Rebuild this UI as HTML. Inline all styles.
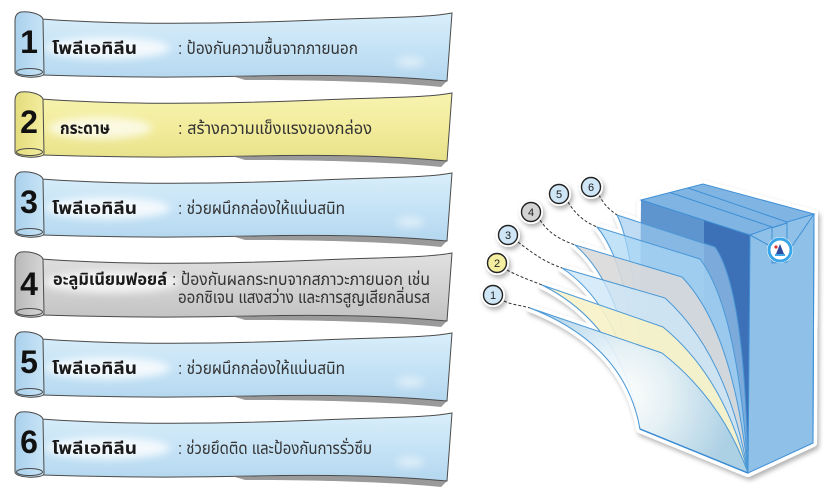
<!DOCTYPE html>
<html><head><meta charset="utf-8">
<style>
html,body{margin:0;padding:0;background:#fff;}
svg{display:block;}
.th{font-family:"Liberation Sans","Noto Sans Thai","Noto Sans Thai UI","Loma","Garuda","Waree","Tlwg Typo","Norasi",sans-serif;}
.num{font-family:"Liberation Sans",sans-serif;font-weight:bold;fill:#111;}
.lab{font-weight:bold;fill:#1a1a1a;font-size:17px;}
.dsc{fill:#333;font-size:17px;}
</style></head><body>
<svg width="836" height="493" viewBox="0 0 836 493" xmlns="http://www.w3.org/2000/svg">
<defs>
  <linearGradient id="gBlue" x1="0" y1="0" x2="0" y2="1">
    <stop offset="0" stop-color="#d9eefa"/><stop offset="0.5" stop-color="#c6e3f6"/><stop offset="1" stop-color="#b4d7ef"/>
  </linearGradient>
  <linearGradient id="gYel" x1="0" y1="0" x2="0" y2="1">
    <stop offset="0" stop-color="#f7f3b0"/><stop offset="0.5" stop-color="#f2ec9c"/><stop offset="1" stop-color="#e8e18a"/>
  </linearGradient>
  <linearGradient id="gGry" x1="0" y1="0" x2="0" y2="1">
    <stop offset="0" stop-color="#e0e0e0"/><stop offset="0.5" stop-color="#d2d2d2"/><stop offset="1" stop-color="#c2c2c2"/>
  </linearGradient>
  <linearGradient id="cBlue" x1="0" y1="0" x2="1" y2="0">
    <stop offset="0" stop-color="#a9d0ec"/><stop offset="1" stop-color="#c8e4f6"/>
  </linearGradient>
  <linearGradient id="cYel" x1="0" y1="0" x2="1" y2="0">
    <stop offset="0" stop-color="#e4dc7c"/><stop offset="1" stop-color="#f3ee a0"/>
  </linearGradient>
  <linearGradient id="cYel2" x1="0" y1="0" x2="1" y2="0">
    <stop offset="0" stop-color="#e4dc7c"/><stop offset="1" stop-color="#f3eea0"/>
  </linearGradient>
  <linearGradient id="cGry" x1="0" y1="0" x2="1" y2="0">
    <stop offset="0" stop-color="#b8b8b8"/><stop offset="1" stop-color="#d6d6d6"/>
  </linearGradient>
  <filter id="glow" x="-30%" y="-100%" width="160%" height="300%">
    <feGaussianBlur stdDeviation="4"/>
  </filter>
  <filter id="sh" x="-10%" y="-10%" width="130%" height="130%">
    <feGaussianBlur in="SourceAlpha" stdDeviation="2.5"/>
    <feOffset dx="2" dy="3" result="b"/>
    <feFlood flood-color="#000" flood-opacity="0.3"/>
    <feComposite in2="b" operator="in"/>
    <feMerge><feMergeNode/><feMergeNode in="SourceGraphic"/></feMerge>
  </filter>
  <radialGradient id="l1g" gradientUnits="userSpaceOnUse" cx="622" cy="395" r="115">
    <stop offset="0" stop-color="#ffffff"/><stop offset="0.4" stop-color="#e4f1f8"/><stop offset="1" stop-color="#a6cde6"/>
  </radialGradient>

  <path id="bBody" d="M42,19 C120,25 220,24 320,20 C385,17 425,18 452,13 L447,81 C405,77 345,74 255,76 C170,78 100,77 42,75 Z"/>
  <path id="bCurl" d="M43,19 C41,14 30,11 21,12 C16,13 15,17 15,21 L15,72 C15,78 42,79 44,74 Z"/>
  <path id="bShad" d="M235,77 C330,74 400,77 447,81 L441,87 C400,83 340,80 245,80 Z"/>
</defs>

<!-- ============ BANNERS ============ -->
<!-- 1 -->
<g transform="translate(0,0)">
  <use href="#bShad" fill="#9a9a9a"/>
  <use href="#bBody" fill="url(#gBlue)" stroke="#4a4a4a" stroke-width="1"/>
  <ellipse cx="108" cy="48" rx="62" ry="11" fill="#fff" opacity="0.8" filter="url(#glow)"/>
  <ellipse cx="410" cy="62" rx="14" ry="5" fill="#fff" opacity="0.5" filter="url(#glow)"/>
  <use href="#bCurl" fill="url(#cBlue)" stroke="#4a4a4a" stroke-width="1"/>
  <ellipse cx="29.5" cy="72" rx="13" ry="3.5" fill="none" stroke="#4a4a4a" stroke-width="1"/>
  <text class="num" x="29" y="53" font-size="32" text-anchor="middle">1</text>
  <text class="th lab" x="52" y="54" textLength="85" lengthAdjust="spacingAndGlyphs">โพลีเอทิลีน</text>
  <text class="th dsc" x="178" y="54" textLength="180" lengthAdjust="spacingAndGlyphs">: ป้องกันความชื้นจากภายนอก</text>
</g>
<!-- 2 -->
<g transform="translate(0,80)">
  <use href="#bShad" fill="#9a9a9a"/>
  <use href="#bBody" fill="url(#gYel)" stroke="#4a4a4a" stroke-width="1"/>
  <ellipse cx="100" cy="48" rx="52" ry="11" fill="#fff" opacity="0.7" filter="url(#glow)"/>
  <use href="#bCurl" fill="url(#cYel2)" stroke="#4a4a4a" stroke-width="1"/>
  <ellipse cx="29.5" cy="72" rx="13" ry="3.5" fill="none" stroke="#4a4a4a" stroke-width="1"/>
  <text class="num" x="29" y="53" font-size="32" text-anchor="middle">2</text>
  <text class="th lab" x="60" y="54" textLength="50" lengthAdjust="spacingAndGlyphs">กระดาษ</text>
  <text class="th dsc" x="178" y="54" textLength="194" lengthAdjust="spacingAndGlyphs">: สร้างความแข็งแรงของกล่อง</text>
</g>
<!-- 3 -->
<g transform="translate(0,160)">
  <use href="#bShad" fill="#9a9a9a"/>
  <use href="#bBody" fill="url(#gBlue)" stroke="#4a4a4a" stroke-width="1"/>
  <ellipse cx="108" cy="48" rx="62" ry="11" fill="#fff" opacity="0.8" filter="url(#glow)"/>
  <ellipse cx="410" cy="62" rx="14" ry="5" fill="#fff" opacity="0.5" filter="url(#glow)"/>
  <use href="#bCurl" fill="url(#cBlue)" stroke="#4a4a4a" stroke-width="1"/>
  <ellipse cx="29.5" cy="72" rx="13" ry="3.5" fill="none" stroke="#4a4a4a" stroke-width="1"/>
  <text class="num" x="29" y="53" font-size="32" text-anchor="middle">3</text>
  <text class="th lab" x="52" y="54" textLength="85" lengthAdjust="spacingAndGlyphs">โพลีเอทิลีน</text>
  <text class="th dsc" x="178" y="54" textLength="167" lengthAdjust="spacingAndGlyphs">: ช่วยผนึกกล่องให้แน่นสนิท</text>
</g>
<!-- 4 -->
<g transform="translate(0,240)">
  <use href="#bShad" fill="#9a9a9a"/>
  <use href="#bBody" fill="url(#gGry)" stroke="#4a4a4a" stroke-width="1"/>
  <ellipse cx="112" cy="42" rx="68" ry="11" fill="#fff" opacity="0.75" filter="url(#glow)"/>
  <use href="#bCurl" fill="url(#cGry)" stroke="#4a4a4a" stroke-width="1"/>
  <ellipse cx="29.5" cy="72" rx="13" ry="3.5" fill="none" stroke="#4a4a4a" stroke-width="1"/>
  <text class="num" x="29" y="55" font-size="32" text-anchor="middle">4</text>
  <text class="th lab" x="53" y="45" textLength="114" lengthAdjust="spacingAndGlyphs">อะลูมิเนียมฟอยล์</text>
  <text class="th dsc" x="172" y="45" textLength="258" lengthAdjust="spacingAndGlyphs">: ป้องกันผลกระทบจากสภาวะภายนอก เช่น</text>
  <text class="th dsc" x="178" y="63" textLength="252" lengthAdjust="spacingAndGlyphs">ออกซิเจน แสงสว่าง และการสูญเสียกลิ่นรส</text>
</g>
<!-- 5 -->
<g transform="translate(0,320)">
  <use href="#bShad" fill="#9a9a9a"/>
  <use href="#bBody" fill="url(#gBlue)" stroke="#4a4a4a" stroke-width="1"/>
  <ellipse cx="108" cy="48" rx="62" ry="11" fill="#fff" opacity="0.8" filter="url(#glow)"/>
  <ellipse cx="410" cy="62" rx="14" ry="5" fill="#fff" opacity="0.5" filter="url(#glow)"/>
  <use href="#bCurl" fill="url(#cBlue)" stroke="#4a4a4a" stroke-width="1"/>
  <ellipse cx="29.5" cy="72" rx="13" ry="3.5" fill="none" stroke="#4a4a4a" stroke-width="1"/>
  <text class="num" x="29" y="53" font-size="32" text-anchor="middle">5</text>
  <text class="th lab" x="52" y="54" textLength="85" lengthAdjust="spacingAndGlyphs">โพลีเอทิลีน</text>
  <text class="th dsc" x="178" y="54" textLength="167" lengthAdjust="spacingAndGlyphs">: ช่วยผนึกกล่องให้แน่นสนิท</text>
</g>
<!-- 6 -->
<g transform="translate(0,400)">
  <use href="#bShad" fill="#9a9a9a"/>
  <use href="#bBody" fill="url(#gBlue)" stroke="#4a4a4a" stroke-width="1"/>
  <ellipse cx="108" cy="48" rx="62" ry="11" fill="#fff" opacity="0.8" filter="url(#glow)"/>
  <ellipse cx="410" cy="62" rx="14" ry="5" fill="#fff" opacity="0.5" filter="url(#glow)"/>
  <use href="#bCurl" fill="url(#cBlue)" stroke="#4a4a4a" stroke-width="1"/>
  <ellipse cx="29.5" cy="72" rx="13" ry="3.5" fill="none" stroke="#4a4a4a" stroke-width="1"/>
  <text class="num" x="29" y="53" font-size="32" text-anchor="middle">6</text>
  <text class="th lab" x="52" y="54" textLength="85" lengthAdjust="spacingAndGlyphs">โพลีเอทิลีน</text>
  <text class="th dsc" x="178" y="54" textLength="194" lengthAdjust="spacingAndGlyphs">: ช่วยยึดติด และป้องกันการรั่วซึม</text>
</g>

<!-- ============ BOX DIAGRAM ============ -->
<!-- white silhouette with shadow -->
<g filter="url(#sh)" fill="#fff" stroke="#fff" stroke-width="8" stroke-linejoin="round">
  <polygon points="641,200 703,184 814,214 813,443 748,473 640,429"/>
  <path d="M617,215 L715,247 Q745,290 748,473 L640,429 Q640,262 617,215 Z"/>
  <path d="M597,227 L700,259 Q738,310 748,473 L640,429 Q635,272 597,227 Z"/>
  <path d="M575,245 L682,277 Q733,330 748,473 L640,429 Q628,290 575,245 Z"/>
  <path d="M562,268 L665,298 Q728,355 748,473 L640,429 Q625,310 562,268 Z"/>
  <path d="M542,285 L663,327 Q725,378 748,473 L640,429 Q624,326 542,285 Z"/>
  <path d="M530,308 L662,353 Q722,400 748,473 L640,429 Q625,345 530,308 Z"/>
</g>

<!-- box faces -->
<polygon points="641,200 750,235 748,473 640,429" fill="#3c71b7"/>
<polygon points="641,200 704,220 704,450 640,429" fill="#5e95ce"/>
<polygon points="750,235 814,214 813,443 748,473" fill="#8fc0e8" stroke="#3f8fd6" stroke-width="1"/>
<polygon points="641,200 703,184 814,214 750,235" fill="#80b5e3" stroke="#3f8fd6" stroke-width="1"/>
<line x1="670" y1="192.5" x2="772" y2="227" stroke="#3f8fd6" stroke-width="1"/>
<line x1="688" y1="188" x2="787" y2="222" stroke="#3f8fd6" stroke-width="1"/>
<!-- fin / gable -->
<polygon points="750,235 772,227 772,263 787,262 787,222 814,214 813,230 788,252 772,247" fill="#8fc0e8"/>
<polyline points="750,235 772,227 772,263 787,262 787,222 814,214" fill="none" stroke="#3f8fd6" stroke-width="1"/>
<line x1="750" y1="235" x2="772" y2="247" stroke="#3f8fd6" stroke-width="1"/>
<line x1="814" y1="214" x2="788" y2="252" stroke="#3f8fd6" stroke-width="1"/>
<line x1="814" y1="214" x2="813" y2="443" stroke="#3f8fd6" stroke-width="1"/>
<!-- sticker -->
<circle cx="780" cy="250" r="13" fill="#fff"/>
<circle cx="780" cy="250" r="11" fill="none" stroke="#3aa6e8" stroke-width="3"/>
<circle cx="780" cy="250" r="8.5" fill="#fff"/>
<polygon points="776,254 780,244 784,254" fill="#2b4f9e"/>
<circle cx="776" cy="247" r="1.6" fill="#d33"/>
<rect x="775" y="254" width="10" height="2" fill="#3aa6e8"/>

<!-- layers back to front -->
<g stroke="#4b98d6" stroke-width="1" stroke-linejoin="round">
  <path d="M617,215 L715,247 Q745,290 748,473 L640,429 Q640,262 617,215 Z" fill="#9dc9ee" fill-opacity="0.65"/>
  <path d="M597,227 L700,259 Q738,310 748,473 L640,429 Q635,272 597,227 Z" fill="#a8d6f5" fill-opacity="0.7"/>
  <path d="M575,245 L682,277 Q733,330 748,473 L640,429 Q628,290 575,245 Z" fill="#d8d8d8" fill-opacity="0.88"/>
  <path d="M562,268 L665,298 Q728,355 748,473 L640,429 Q625,310 562,268 Z" fill="#cde6f7" fill-opacity="0.8"/>
  <path d="M542,285 L663,327 Q725,378 748,473 L640,429 Q624,326 542,285 Z" fill="#f7f2c6" fill-opacity="0.9"/>
  <path d="M530,308 L662,353 Q722,400 748,473 L640,429 Q625,345 530,308 Z" fill="url(#l1g)" fill-opacity="0.93"/>
</g>
<line x1="640" y1="429" x2="748" y2="473" stroke="#3a8ad2" stroke-width="1.3"/>

<!-- dashed leaders -->
<g fill="none" stroke="#333" stroke-width="1" stroke-dasharray="3,2">
  <path d="M504,301 C512,305 520,305 530,308"/>
  <path d="M507,270 C520,277 530,280 542,285"/>
  <path d="M518,242 C535,255 545,262 562,268"/>
  <path d="M540,220 C550,235 562,240 575,245"/>
  <path d="M568,202 C576,215 585,222 597,227"/>
  <path d="M599,195 C604,205 610,210 617,215"/>
</g>

<!-- number circles -->
<g filter="url(#sh)">
  <circle cx="493" cy="295" r="12" fill="#fff"/>
  <circle cx="497" cy="263" r="12" fill="#fff"/>
  <circle cx="508" cy="235" r="12" fill="#fff"/>
  <circle cx="531" cy="212" r="12" fill="#fff"/>
  <circle cx="559" cy="194" r="12" fill="#fff"/>
  <circle cx="591" cy="187" r="12" fill="#fff"/>
</g>
<g stroke="#222" stroke-width="1.4">
  <circle cx="493" cy="295" r="9.5" fill="#cfe6f6"/>
  <circle cx="497" cy="263" r="9.5" fill="#f3eea0"/>
  <circle cx="508" cy="235" r="9.5" fill="#cfe6f6"/>
  <circle cx="531" cy="212" r="9.5" fill="#d3d3d3"/>
  <circle cx="559" cy="194" r="9.5" fill="#cfe6f6"/>
  <circle cx="591" cy="187" r="9.5" fill="#cfe6f6"/>
</g>
<g font-family="Liberation Sans, sans-serif" font-size="11" fill="#222" text-anchor="middle">
  <text x="493" y="299">1</text>
  <text x="497" y="267">2</text>
  <text x="508" y="239">3</text>
  <text x="531" y="216">4</text>
  <text x="559" y="198">5</text>
  <text x="591" y="191">6</text>
</g>
</svg>
</body></html>
